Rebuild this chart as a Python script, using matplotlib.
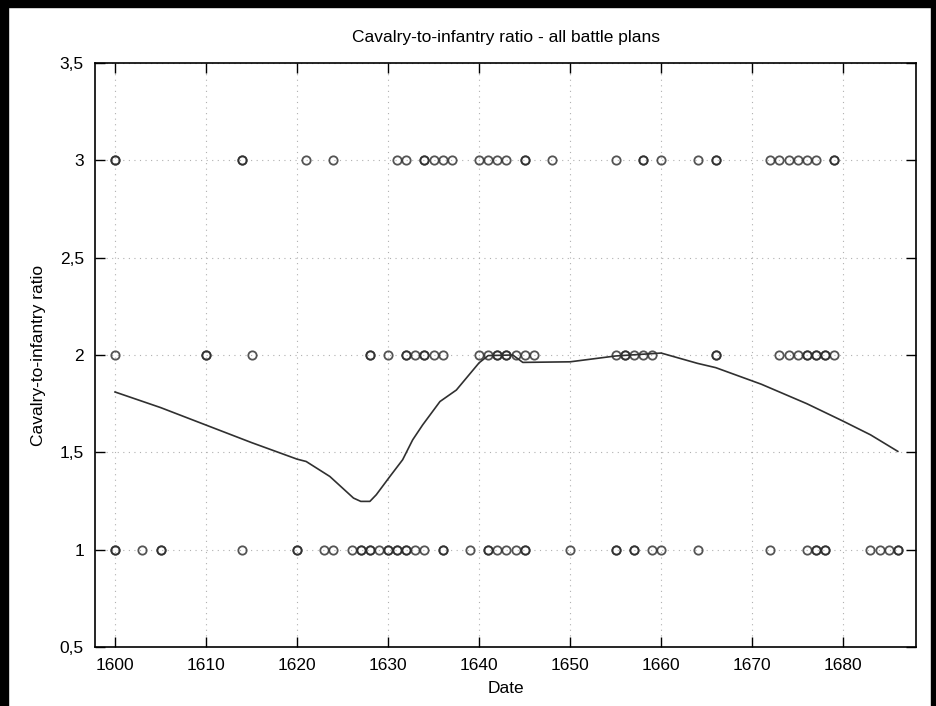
import matplotlib
matplotlib.use("Agg")
import matplotlib.pyplot as plt
from matplotlib.patches import Rectangle
from matplotlib.ticker import FuncFormatter

plt.rcParams['font.family'] = ['Liberation Sans', 'DejaVu Sans']

# battle plans by date, one list per ratio level (repeats = several plans that year)
years_3 = [1600, 1600, 1614, 1614, 1621, 1624, 1631, 1632, 1634, 1634, 1635, 1636, 1637,
           1640, 1641, 1642, 1643, 1645, 1645, 1648, 1655, 1658, 1658, 1660, 1664,
           1666, 1666, 1672, 1673, 1674, 1675, 1676, 1677, 1679, 1679]
years_2 = [1600, 1610, 1610, 1615, 1628, 1628, 1630, 1632, 1632, 1633, 1634, 1634, 1635,
           1636, 1640, 1641, 1642, 1642, 1643, 1643, 1644, 1645, 1646, 1655, 1656, 1656,
           1657, 1658, 1659, 1666, 1666, 1673, 1674, 1675, 1676, 1676, 1677, 1677,
           1678, 1678, 1679]
years_1 = [1600, 1600, 1603, 1605, 1605, 1614, 1620, 1620, 1623, 1624, 1626, 1627, 1627,
           1628, 1628, 1629, 1630, 1630, 1631, 1631, 1632, 1632, 1633, 1634, 1636, 1636,
           1639, 1641, 1641, 1642, 1643, 1644, 1645, 1645, 1650, 1655, 1655, 1657, 1657,
           1659, 1660, 1664, 1672, 1676, 1677, 1677, 1678, 1678, 1683, 1684, 1685, 1686,
           1686]

# smoothed trend
trend_x = [1600, 1605, 1610, 1615, 1620, 1621, 1623.6, 1626.2, 1627, 1628, 1628.7, 1630.2,
           1631.6, 1632.7, 1633.8, 1635.7, 1637.5, 1640, 1641, 1643.7, 1644.8, 1650, 1655,
           1660, 1664, 1666, 1671, 1676, 1680, 1683, 1686]
trend_y = [1.81, 1.73, 1.64, 1.55, 1.465, 1.453, 1.376, 1.265, 1.248, 1.248, 1.282, 1.376,
           1.462, 1.564, 1.641, 1.761, 1.82, 1.96, 1.997, 2.0, 1.962, 1.965, 1.995,
           2.01, 1.957, 1.935, 1.85, 1.75, 1.66, 1.59, 1.505]

fig = plt.figure(figsize=(9.36, 7.06), dpi=100)
ax = fig.add_axes([95/936, 1-647/706, (916-95)/936, (647-63)/706])

for ys, level in [(years_3, 3), (years_2, 2), (years_1, 1)]:
    ax.plot(ys, [level]*len(ys), 'o', ms=6, mfc='none', mec='#2a2a2a', mew=1.3,
            alpha=0.8, zorder=3)
ax.plot(trend_x, trend_y, color='#303030', lw=1.2, zorder=4)

ax.set_xlim(1597.8, 1688)
ax.set_ylim(0.5, 3.5)
ax.set_xticks(range(1600, 1681, 10))
ax.set_yticks([0.5, 1, 1.5, 2, 2.5, 3, 3.5])
ax.yaxis.set_major_formatter(FuncFormatter(
    lambda v, p: ('%g' % v).replace('.', ',')))
ax.tick_params(direction='in', length=7, width=1, top=True, right=True,
               labelsize=12.5, pad=8, colors='black')
ax.grid(True, linestyle=(0, (1, 4)), color='#b0b0b0', lw=0.8)
for s in ax.spines.values():
    s.set_linewidth(1.2)

ax.set_title('Cavalry-to-infantry ratio - all battle plans', fontsize=12.5, pad=15)
ax.set_xlabel('Date', fontsize=12.5, labelpad=6)
ax.set_ylabel('Cavalry-to-infantry ratio', fontsize=12.5, labelpad=10)

# dark frame round the top and sides
fig.patches.append(Rectangle((0, 1-7/706), 1, 7/706, transform=fig.transFigure,
                             color='black', zorder=10))
fig.patches.append(Rectangle((0, 0), 8/936, 1, transform=fig.transFigure,
                             color='black', zorder=10))
fig.patches.append(Rectangle((1-5/936, 0), 5/936, 1, transform=fig.transFigure,
                             color='black', zorder=10))

plt.savefig('out.png', dpi=100)
